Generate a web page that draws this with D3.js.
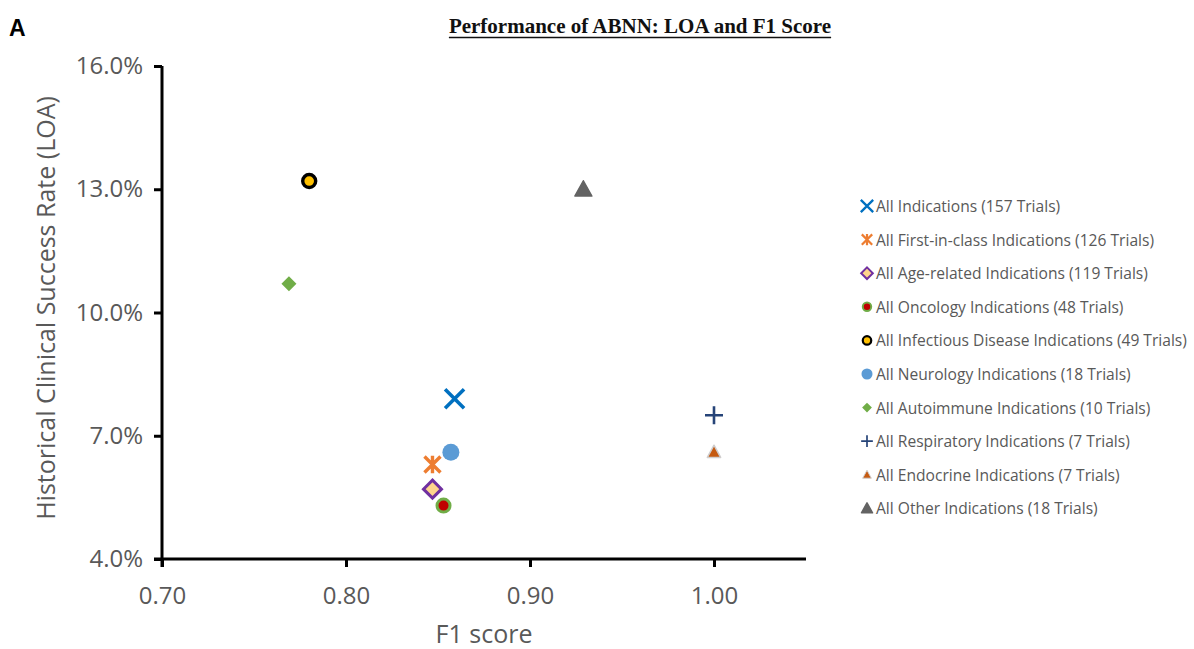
<!DOCTYPE html>
<html>
<head>
<meta charset="utf-8">
<script src="https://cdn.jsdelivr.net/npm/d3@7"></script>
<style>
  html, body { margin: 0; padding: 0; background: #fff; }
  svg { display: block; }
</style>
</head>
<body>
<svg id="chart" width="1194" height="649"></svg>
<script>
// Series (one point each): name, F1 score, historical LOA
const seriesNames = [
  "All Indications (157 Trials)",
  "All First-in-class Indications (126 Trials)",
  "All Age-related Indications (119 Trials)",
  "All Oncology Indications (48 Trials)",
  "All Infectious Disease Indications (49 Trials)",
  "All Neurology Indications (18 Trials)",
  "All Autoimmune Indications (10 Trials)",
  "All Respiratory Indications (7 Trials)",
  "All Endocrine Indications (7 Trials)",
  "All Other Indications (18 Trials)"
];
const f1Scores = [0.859, 0.847, 0.847, 0.853, 0.780, 0.857, 0.769, 1.000, 1.000, 0.929];
const loaValues = [0.079, 0.063, 0.057, 0.053, 0.132, 0.066, 0.107, 0.075, 0.066, 0.130];
const markerKinds = ["x", "asterisk", "diamondOutline", "ringRed", "ringYellow", "circle", "diamond", "plus", "triOutline", "triangle"];

const xTicks = [0.70, 0.80, 0.90, 1.00];
const yTicks = [0.04, 0.07, 0.10, 0.13, 0.16];

const svg = d3.select("#chart");
const textGray = "#595959";
const sans = "'Open Sans', 'Noto Sans', sans-serif";

const x = d3.scaleLinear().domain([0.70, 1.05]).range([162, 806]);
const y = d3.scaleLinear().domain([0.04, 0.16]).range([559, 66]);

// Panel letter and title
svg.append("text").attr("x", 9).attr("y", 36)
  .attr("font-family", "Liberation Sans, Arial, sans-serif")
  .attr("font-weight", "bold").attr("font-size", 23).attr("fill", "#000").text("A");

const title = svg.append("text").attr("x", 640).attr("y", 33).attr("text-anchor", "middle")
  .attr("font-family", "Liberation Serif, serif").attr("font-weight", "bold")
  .attr("font-size", 21).attr("fill", "#111").text("Performance of ABNN: LOA and F1 Score");
const tb = title.node().getBBox();
svg.append("line").attr("x1", tb.x).attr("x2", tb.x + tb.width)
  .attr("y1", 37.5).attr("y2", 37.5).attr("stroke", "#111").attr("stroke-width", 1.5);

// Axes
const xAxis = d3.axisBottom(x).tickValues(xTicks).tickFormat(d3.format(".2f")).tickSize(8).tickPadding(20);
const yAxis = d3.axisLeft(y).tickValues(yTicks).tickFormat(d3.format(".1%")).tickSize(8).tickPadding(11);

const gx = svg.append("g").attr("transform", `translate(0,${y(0.04)})`).call(xAxis);
const gy = svg.append("g").attr("transform", `translate(${x(0.70)},0)`).call(yAxis);

[gx, gy].forEach(g => {
  g.select(".domain").attr("stroke", "#000").attr("stroke-width", 3);
  g.selectAll(".tick line").attr("stroke", "#000").attr("stroke-width", 3);
  g.selectAll(".tick text").attr("fill", textGray)
    .attr("font-family", sans).attr("font-size", 24);
});
gx.select(".domain").attr("d", `M${x(0.70) - 8},0H${x(1.05)}`);
gy.select(".domain").attr("d", `M0,${y(0.16)}V${y(0.04) + 8}`);

// Axis titles
svg.append("text").attr("x", (x(0.70) + x(1.05)) / 2).attr("y", 643).attr("text-anchor", "middle")
  .attr("font-family", sans).attr("font-size", 25)
  .attr("fill", textGray).text("F1 score");
svg.append("text").attr("transform", "translate(55,308) rotate(-90)").attr("text-anchor", "middle")
  .attr("font-family", sans).attr("font-size", 25)
  .attr("fill", textGray).text("Historical Clinical Success Rate (LOA)");

// Marker drawing; s scales the symbol (1 in the plot, smaller in the legend)
function drawMarker(g, kind, s) {
  switch (kind) {
    case "x": {
      const h = 9.5 * s;
      g.append("path").attr("d", `M${-h},${-h}L${h},${h}M${-h},${h}L${h},${-h}`)
        .attr("stroke", "#0070C0").attr("stroke-width", 3.6 * s).attr("fill", "none");
      break;
    }
    case "asterisk": {
      const h = 8 * s;
      g.append("path").attr("d", `M${-h},${-h}L${h},${h}M${-h},${h}L${h},${-h}M0,${-h * 1.1}V${h * 1.1}`)
        .attr("stroke", "#ED7D31").attr("stroke-width", 3.4 * s).attr("fill", "none");
      break;
    }
    case "diamondOutline": {
      const h = 9 * s;
      g.append("path").attr("d", `M0,${-h}L${h},0L0,${h}L${-h},0Z`)
        .attr("fill", "#FFD58C").attr("stroke", "#7030A0").attr("stroke-width", 3 * s);
      break;
    }
    case "ringRed":
      g.append("circle").attr("r", 6.5 * s).attr("fill", "#C00000")
        .attr("stroke", "#70AD47").attr("stroke-width", 3 * s);
      break;
    case "ringYellow":
      g.append("circle").attr("r", 6.5 * s).attr("fill", "#FFC000")
        .attr("stroke", "#000").attr("stroke-width", 3.4 * s);
      break;
    case "circle":
      g.append("circle").attr("r", 8.5 * s).attr("fill", "#5B9BD5");
      break;
    case "diamond": {
      const h = 7.5 * s;
      g.append("path").attr("d", `M0,${-h}L${h},0L0,${h}L${-h},0Z`).attr("fill", "#70AD47");
      break;
    }
    case "plus": {
      const h = 9 * s;
      g.append("path").attr("d", `M${-h},0H${h}M0,${-h}V${h}`)
        .attr("stroke", "#264478").attr("stroke-width", 2.6 * s).attr("fill", "none");
      break;
    }
    case "triOutline": {
      const h = 7 * s;
      g.append("path").attr("d", `M0,${-h}L${h * 0.95},${h * 0.75}L${-h * 0.95},${h * 0.75}Z`)
        .attr("fill", "#C55A11").attr("stroke", "#D0CECE").attr("stroke-width", 1.5 * s)
        .attr("stroke-linejoin", "round");
      break;
    }
    case "triangle": {
      const h = 8.5 * s;
      g.append("path").attr("d", `M0,${-h}L${h},${h * 0.8}L${-h},${h * 0.8}Z`)
        .attr("fill", "#636363").attr("stroke", "#636363").attr("stroke-width", 1.5)
        .attr("stroke-linejoin", "round");
      break;
    }
  }
}

// Points
const points = seriesNames.map((name, i) => ({ name, f1: f1Scores[i], loa: loaValues[i], kind: markerKinds[i] }));
const pg = svg.append("g");
points.forEach(p => {
  const g = pg.append("g").attr("transform", `translate(${x(p.f1)},${y(p.loa)})`);
  drawMarker(g, p.kind, 1);
});

// Legend
const legend = svg.append("g").attr("transform", "translate(867,206)");
points.forEach((p, i) => {
  const row = legend.append("g").attr("transform", `translate(0,${i * 33.6})`);
  drawMarker(row.append("g"), p.kind, 0.65);
  row.append("text").attr("x", 9).attr("y", 6)
    .attr("font-family", sans).attr("font-size", 15.6)
    .attr("fill", textGray).text(p.name);
});
</script>
</body>
</html>
